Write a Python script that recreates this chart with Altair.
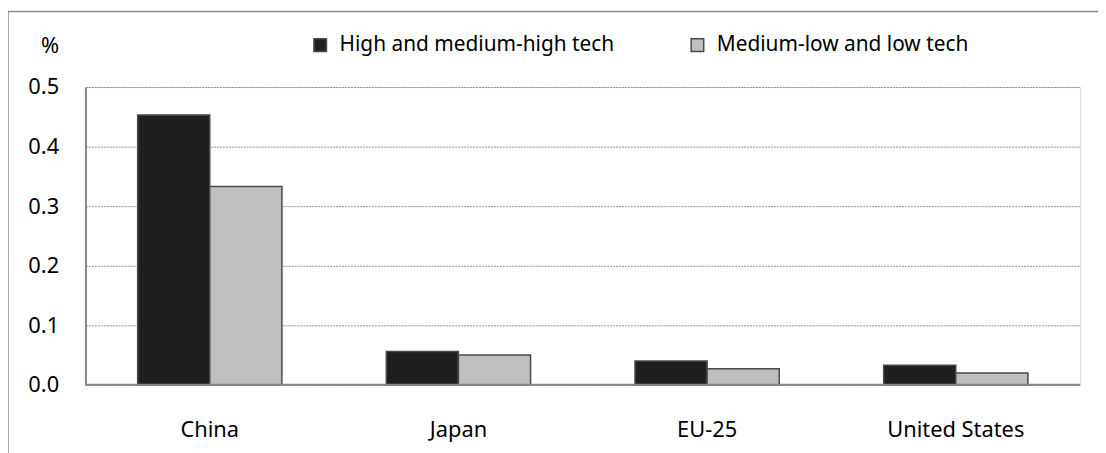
import altair as alt
import pandas as pd

countries = ["China", "Japan", "EU-25", "United States"]
series = ["High and medium-high tech", "Medium-low and low tech"]
high_vals = [0.453, 0.056, 0.040, 0.033]
low_vals = [0.333, 0.050, 0.027, 0.020]
y_ticks = [0.0, 0.1, 0.2, 0.3, 0.4, 0.5]

rows = []
for c, h, l in zip(countries, high_vals, low_vals):
    rows.append({"Country": c, "Series": series[0], "Value": h})
    rows.append({"Country": c, "Series": series[1], "Value": l})
df = pd.DataFrame(rows)

FONT = "Noto Sans"
FS = 22

bars = alt.Chart(df).mark_bar(stroke="#4a4a4a", strokeWidth=1.5).encode(
    x=alt.X("Country:N", sort=countries,
            scale=alt.Scale(paddingInner=0.42, paddingOuter=0.21),
            axis=alt.Axis(title=None, labelAngle=0, ticks=False, domain=False,
                          labelPadding=35, labelFontSize=FS, labelFont=FONT,
                          labelColor="#000000", grid=False)),
    xOffset=alt.XOffset("Series:N", sort=series,
                        scale=alt.Scale(paddingInner=0, paddingOuter=0)),
    y=alt.Y("Value:Q", scale=alt.Scale(domain=[0, 0.5], nice=False),
            axis=alt.Axis(values=y_ticks, format=".1f", title="%", titleAngle=0,
                          titleAlign="right", titleBaseline="middle",
                          titleX=-27, titleY=-42, titleFontSize=FS,
                          titleFontWeight="normal", titleFont=FONT,
                          titleColor="#000000",
                          ticks=False, labelPadding=27, labelFontSize=FS,
                          labelFont=FONT, labelColor="#000000",
                          domainColor="#868686", domainWidth=2,
                          gridColor="#8f8f8f", gridDash=[2, 1], gridWidth=1)),
    color=alt.Color("Series:N", sort=series,
                    scale=alt.Scale(domain=series, range=["#1f1f1f", "#bfbfbf"]),
                    legend=alt.Legend(title=None, orient="none", legendX=226, legendY=-53,
                                      direction="horizontal", symbolType="square",
                                      symbolSize=160, symbolStrokeColor="#4a4a4a",
                                      symbolStrokeWidth=1.5, labelFontSize=21,
                                      labelFont=FONT, labelColor="#000000",
                                      labelLimit=400,
                                      columnPadding=73, labelOffset=9)),
)

baseline = alt.Chart(alt.Data(values=[{}])).mark_rule(color="#868686", strokeWidth=2).encode(
    x=alt.value(0), x2=alt.value(1002), y=alt.value(300))

frame_top = alt.Chart(alt.Data(values=[{}])).mark_rule(color="#8c8c8c", strokeWidth=1.5).encode(
    x=alt.value(-78), x2=alt.value(1030), y=alt.value(-76))
frame_left = alt.Chart(alt.Data(values=[{}])).mark_rule(color="#8c8c8c", strokeWidth=1.5).encode(
    x=alt.value(-78), y=alt.value(-76), y2=alt.value(380))

chart = alt.layer(bars, baseline, frame_top, frame_left).properties(
    width=1002, height=300,
    autosize=alt.AutoSizeParams(type="none"),
    padding={"left": 78, "top": 78, "right": 18, "bottom": 67},
).configure_view(fill="#e6e6e6", stroke=None).configure(background="#ffffff")

chart.save("out.html", embed_options={"renderer": "svg", "actions": False})
